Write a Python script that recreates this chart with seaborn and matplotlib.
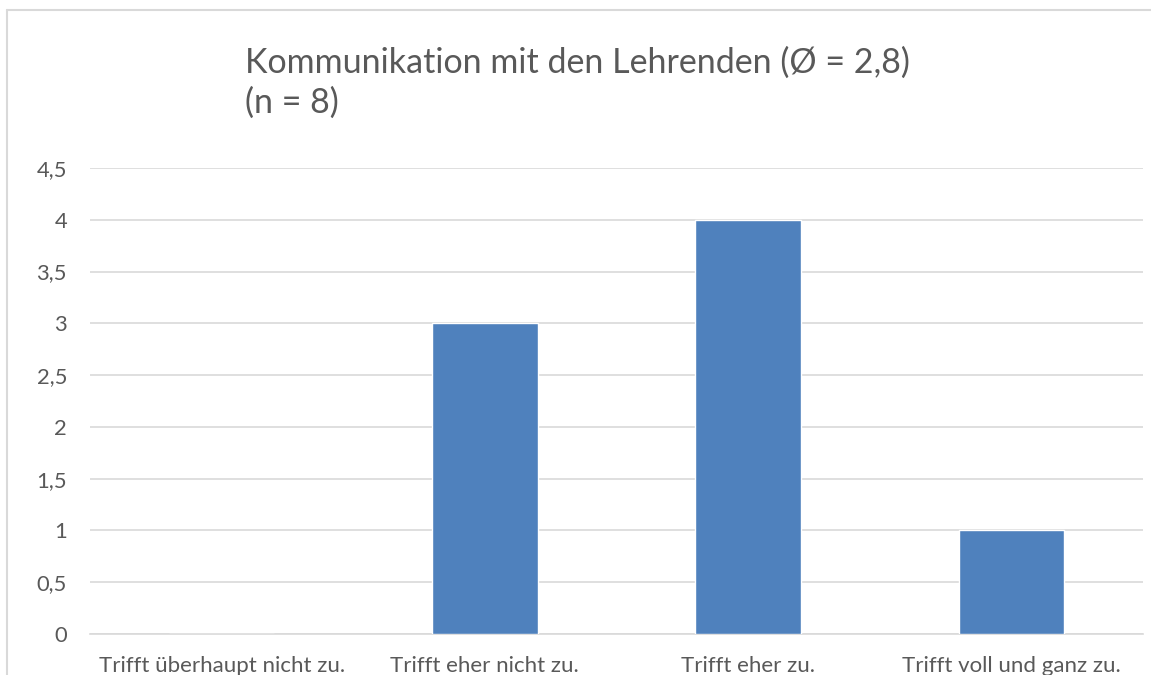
import matplotlib
matplotlib.use("Agg")
import matplotlib.pyplot as plt
from matplotlib.lines import Line2D
from matplotlib.ticker import FuncFormatter
import seaborn as sns
import pandas as pd

categories = ["Trifft überhaupt nicht zu.", "Trifft eher nicht zu.", "Trifft eher zu.", "Trifft voll und ganz zu."]
values = [0, 3, 4, 1]
yticks = [0, 0.5, 1, 1.5, 2, 2.5, 3, 3.5, 4, 4.5]
title_line1 = "Kommunikation mit den Lehrenden (Ø = 2,8)"
title_line2 = "(n = 8)"

sns.set_style("white")
plt.rcParams['font.family'] = ['Lato', 'DejaVu Sans']

TXT = "#595959"
GRID = "#D9D9D9"
BAR = "#4F81BD"

fig = plt.figure(figsize=(11.51, 6.75), dpi=100)
W, H = 1151, 675
ax = fig.add_axes([90 / W, (H - 634) / H, (1143 - 90) / W, (634 - 168) / H])

df = pd.DataFrame({"cat": categories, "val": values})
sns.barplot(data=df, x="cat", y="val", color=BAR, width=0.4, saturation=1, ax=ax, zorder=3)

ax.set_ylim(0, 4.5)
ax.set_xlim(-0.5, 3.5)
ax.set_yticks(yticks)
ax.yaxis.set_major_formatter(FuncFormatter(lambda v, p: ("%g" % v).replace(".", ",")))
ax.grid(axis="y", color=GRID, linewidth=1.2, zorder=0)
ax.set_axisbelow(True)
for s in ["left", "right", "top"]:
    ax.spines[s].set_visible(False)
ax.spines["bottom"].set_color(GRID)
ax.spines["bottom"].set_linewidth(1.2)
ax.set_xlabel("")
ax.set_ylabel("")
ax.tick_params(axis="y", length=0, pad=16.5, labelsize=15.8, labelcolor=TXT)
ax.tick_params(axis="x", length=0, pad=15.5, labelsize=16, labelcolor=TXT)

fig.text(245 / W, 1 - 63 / H, title_line1, fontsize=24.5, color=TXT, ha="left", va="center")
fig.text(245 / W, 1 - 103 / H, title_line2, fontsize=24.5, color=TXT, ha="left", va="center")

fig.add_artist(Line2D([7 / W, 7 / W], [0, 1 - 10 / H], color=GRID, linewidth=1.5, transform=fig.transFigure))
fig.add_artist(Line2D([7 / W, 1], [1 - 10 / H, 1 - 10 / H], color=GRID, linewidth=1.5, transform=fig.transFigure))

fig.savefig("out.png", dpi=100)
